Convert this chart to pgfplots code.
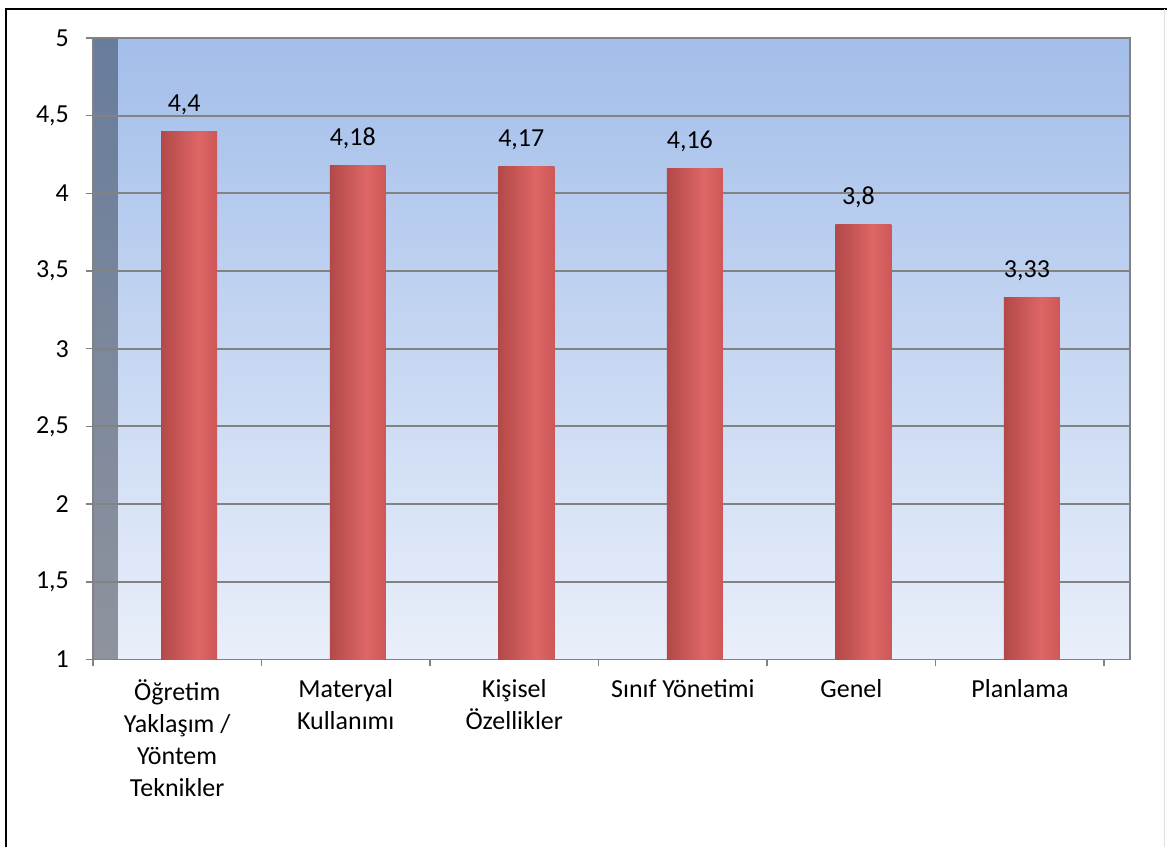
\documentclass[border=0pt]{standalone}
\usepackage{pgfplots}
\pgfplotsset{compat=1.18}
\usepackage{fontspec}
\setmainfont{Carlito}

\definecolor{bgtop}{RGB}{163,190,234}
\definecolor{bgbot}{RGB}{233,239,250}
\definecolor{walltop}{RGB}{104,124,156}
\definecolor{wallbot}{RGB}{142,147,157}
\definecolor{gridgray}{RGB}{130,130,130}
\definecolor{bdark}{RGB}{122,40,40}
\definecolor{bmid}{RGB}{170,66,66}
\definecolor{blight}{RGB}{222,102,102}
\definecolor{bmidr}{RGB}{198,82,82}
\definecolor{bdarkr}{RGB}{138,50,50}

% cylinder-like horizontal shading for the bars
\pgfdeclarehorizontalshading{barshade}{100bp}{%
  color(0bp)=(bdark); color(18bp)=(bmid); color(58bp)=(blight);
  color(82bp)=(bmidr); color(100bp)=(bdarkr)}

\pgfplotsset{
  cylbar/.style={ybar, bar width=28pt, bar shift=6pt, draw=none, shading=barshade,
    nodes near coords={\pgfmathprintnumber{\pgfplotspointmeta}},
    every node near coord/.append style={font=\fontsize{13}{16}\selectfont,
      text=black, anchor=base, yshift=10pt, xshift=3.5pt, inner sep=0pt,
      /pgf/number format/assume math mode=true}},
}

\begin{document}
\begin{tikzpicture}
\path (0,0) rectangle (584pt,424pt);
% outer frame
\draw[black, line width=1pt] (3pt,0) -- (3pt,419.5pt) -- (584pt,419.5pt);
\draw[gray!25, line width=0.6pt] (582.8pt,0) -- (582.8pt,419.5pt);

\begin{axis}[
  set layers,
  at={(46.5pt,94pt)}, anchor=south west,
  scale only axis, width=519pt, height=311pt,
  xmin=-0.5, xmax=5.653, ymin=1, ymax=5,
  ytick={1,1.5,...,5},
  /pgf/number format/use comma,
  /pgf/number format/assume math mode=true,
  xtick={-0.5,0.5,...,5.5}, xticklabels={},
  extra x ticks={0,1,2,3,4,5},
  extra x tick labels={{Öğretim\\Yaklaşım /\\Yöntem\\Teknikler},{Materyal\\Kullanımı},{Kişisel\\Özellikler},{Sınıf Yönetimi},{Genel},{Planlama}},
  extra x tick style={major tick length=0pt, grid=none},
  tick align=outside, major tick length=3.5pt,
  xtick pos=left, ytick pos=left,
  tick style={draw=gridgray, line width=0.8pt},
  axis line style={draw=gridgray, line width=0.8pt},
  ymajorgrids, grid style={draw=gridgray, line width=0.9pt},
  tick label style={font=\fontsize{13}{16}\selectfont, text=black},
  xticklabel style={align=center, yshift=-6.5pt},
  yticklabel style={xshift=-5pt},
]
\begin{pgfonlayer}{axis background}
  \fill[top color=bgtop, bottom color=bgbot]
    (rel axis cs:0.024,0) rectangle (rel axis cs:1,1);
  \fill[top color=walltop, bottom color=wallbot]
    (rel axis cs:0,0) rectangle (rel axis cs:0.024,1);
\end{pgfonlayer}
% one plot per bar so that every bar gets its own shading
\addplot[cylbar] coordinates {(0,4.4)};
\addplot[cylbar] coordinates {(1,4.18)};
\addplot[cylbar] coordinates {(2,4.17)};
\addplot[cylbar] coordinates {(3,4.16)};
\addplot[cylbar] coordinates {(4,3.8)};
\addplot[cylbar] coordinates {(5,3.33)};
\end{axis}
\end{tikzpicture}
\end{document}
